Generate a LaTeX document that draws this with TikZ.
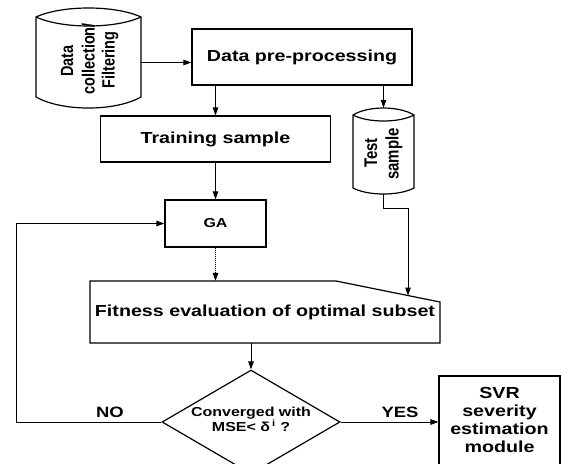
\documentclass[tikz,border=0pt]{standalone}
\usepackage{fontspec}
\setmainfont{Liberation Sans}[FakeStretch=1.23]
\newfontfamily\rotfont{Liberation Sans}
\usetikzlibrary{arrows.meta,shapes.geometric}
\newcommand{\rottext}[2]{\scalebox{1}[1.22]{\rotfont\fontsize{#1}{#1}\selectfont\bfseries #2}}
\begin{document}
\begin{tikzpicture}[x=1pt,y=-1pt,
  shapeline/.style={line width=1.2pt},
  box/.style={draw, line width=1.2pt, inner sep=0pt, align=center, font=\fontsize{16}{18}\selectfont\bfseries},
  plain/.style={inner sep=0pt, align=center, font=\fontsize{16}{18}\selectfont\bfseries},
  lbl/.style={inner sep=0pt, font=\fontsize{15}{17}\selectfont\bfseries},
  rot/.style={rotate=90, inner sep=0pt},
  conn/.style={line width=1pt, -{Triangle[length=8pt,width=5.5pt]}}]
\useasboundingbox (0,0) rectangle (561,463);
\clip (0,0) rectangle (561,463);

% Data collection cylinder
\node[inner sep=0pt, minimum width=105pt, minimum height=80pt] (dc) at (88.5,57) {};
\draw[shapeline] (36,17) -- (36,97) .. controls (62,111.7) and (115,111.7) .. (141,97)
  -- (141,17) .. controls (115,5) and (62,5) .. (36,17) -- cycle;
\draw[shapeline] (36,17) .. controls (62,29) and (115,29) .. (141,17);
\node[rot] (dct1) at (67,61) {\rottext{14.5}{Data}};
\node[rot] (dct2) at (88.5,59) {\rottext{14.5}{collection/}};
\node[rot] (dct3) at (110,60) {\rottext{14.5}{Filtering}};

% Data pre-processing
\node[box, minimum width=220pt, minimum height=56pt] (pp) at (302,57) {Data pre-processing};

% Training sample
\node[box, minimum width=230pt, minimum height=46pt] (tr) at (215.5,139) {Training sample};

% Test sample cylinder
\node[inner sep=0pt, minimum width=61pt, minimum height=86pt] (ts) at (383.5,151) {};
\draw[shapeline] (353,115) -- (353,188) .. controls (368,196) and (399,196) .. (414,188)
  -- (414,115) .. controls (399,105.7) and (368,105.7) .. (353,115) -- cycle;
\draw[shapeline] (353,115) .. controls (368,123) and (399,123) .. (414,115);
\node[rot] (tst1) at (371,153) {\rottext{15}{Test}};
\node[rot] (tst2) at (394,154) {\rottext{15}{sample}};

% GA
\node[box, minimum width=101pt, minimum height=47pt, font=\fontsize{13}{15}\selectfont\bfseries] (ga) at (215.5,223.5) {GA};

% Fitness (manual input shape)
\node[plain, minimum width=350pt, minimum height=62pt] (fit) at (265,312) {Fitness evaluation of optimal subset};
\draw[shapeline] (90,281) -- (336,281) -- (440,302) -- (440,343) -- (90,343) -- cycle;
\coordinate (fitin) at (408,295.5);

% Decision diamond
\node[diamond, draw, line width=1.2pt, minimum width=178pt, minimum height=104pt, inner sep=0pt] (dia) at (251,422) {};
\node[inner sep=0pt, align=center, font=\fontsize{13}{15}\selectfont\bfseries] (diat) at (251,419)
  {Converged with\\MSE< δ\,\textsuperscript{i} ?};

% SVR
\node[draw, line width=1.2pt, minimum width=121pt, minimum height=110pt, inner sep=0pt] (svr) at (499.5,431) {};
\node[plain] (svrt) at (499.5,420) {SVR\\severity\\estimation\\module};

% Labels
\node[lbl] (no) at (110,412) {NO};
\node[lbl] (yes) at (400,412) {YES};

% Connectors
\coordinate (tsk) at (408,208);
\coordinate (fbk) at (16,422);
\draw[conn] ([yshift=-5.5pt]dc.east) -- ([yshift=-5.5pt]pp.west);
\draw[conn] (pp.south -| tr.north) -- (tr.north);
\draw[conn] (pp.south -| ts.north) -- (ts.north);
\draw[conn] (tr.south) -- (ga.north);
\draw[conn] (ts.south) -- (ts.south |- tsk) -- (tsk) -- (fitin);
\draw[conn, densely dotted] (ga.south) -- (ga.south |- fit.north);
\draw[conn] (fit.south -| dia.north) -- (dia.north);
\draw[conn] (dia.west) -- (fbk) |- (ga.west);
\draw[conn] (dia.east) -- (dia.east -| svr.west);
\end{tikzpicture}
\end{document}
